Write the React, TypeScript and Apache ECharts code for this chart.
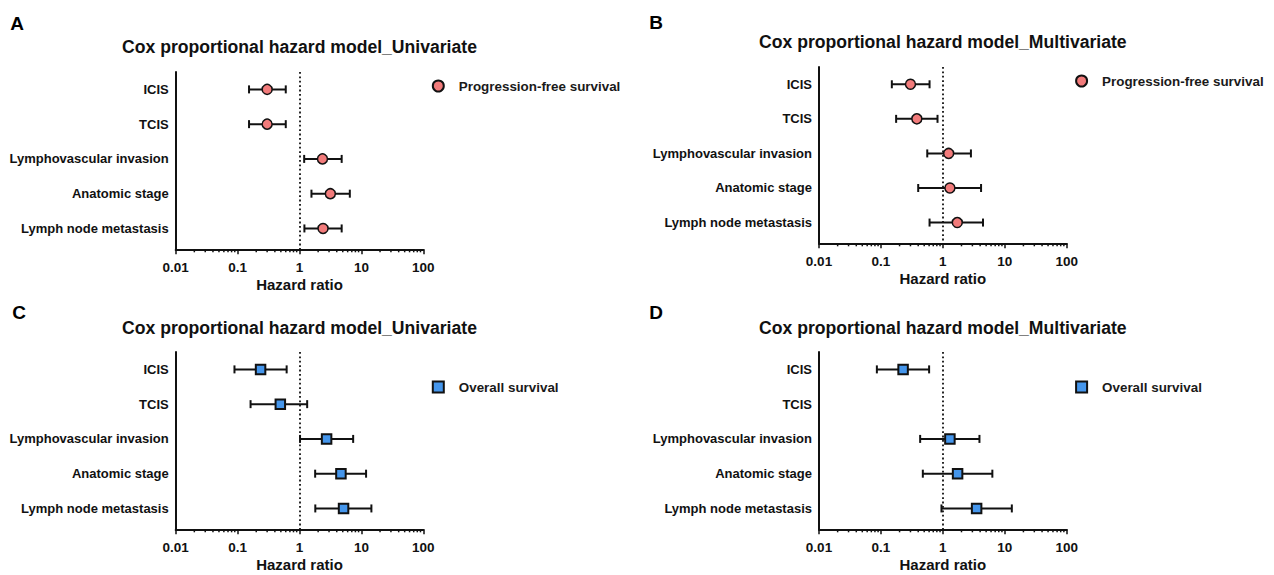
import React, { useEffect, useRef } from 'react';
import * as echarts from 'echarts';

// ---------- data ----------
const CATEGORIES = ['ICIS', 'TCIS', 'Lymphovascular invasion', 'Anatomic stage', 'Lymph node metastasis'];
const TICK_LABELS = ['0.01', '0.1', '1', '10', '100'];
const MINOR_TICKS = [
  0.02, 0.03, 0.04, 0.05, 0.06, 0.07, 0.08, 0.09,
  0.2, 0.3, 0.4, 0.5, 0.6, 0.7, 0.8, 0.9,
  2, 3, 4, 5, 6, 7, 8, 9,
  20, 30, 40, 50, 60, 70, 80, 90,
];

const TITLE_UNI = 'Cox proportional hazard model_Univariate';
const TITLE_MULTI = 'Cox proportional hazard model_Multivariate';
const PFS_NAME = 'Progression-free survival';
const OS_NAME = 'Overall survival';
const AXIS_NAME = 'Hazard ratio';

// Panel A: PFS, univariate
const A_HR = [0.30, 0.30, 2.35, 3.15, 2.4];
const A_LOW = [0.153, 0.153, 1.19, 1.56, 1.2];
const A_HIGH = [0.60, 0.60, 4.8, 6.5, 4.8];

// Panel B: PFS, multivariate
const B_HR = [0.30, 0.38, 1.24, 1.30, 1.71];
const B_LOW = [0.15, 0.176, 0.56, 0.40, 0.61];
const B_HIGH = [0.61, 0.82, 2.84, 4.14, 4.45];

// Panel C: OS, univariate
const C_HR = [0.235, 0.49, 2.74, 4.67, 5.15];
const C_LOW = [0.089, 0.162, 1.02, 1.79, 1.8];
const C_HIGH = [0.62, 1.33, 7.36, 11.9, 14.5];

// Panel D: OS, multivariate (TCIS not in model)
const D_HR = [0.228, null, 1.30, 1.73, 3.51];
const D_LOW = [0.086, null, 0.43, 0.475, 0.95];
const D_HIGH = [0.60, null, 3.90, 6.3, 13.0];

// ---------- styles / layout ----------
const FONT = "'Liberation Sans', Arial, sans-serif";
const INK = '#111111';
const PFS_COLOR = '#F27B7B';
const OS_COLOR = '#4596EC';

type Panel = {
  letter: string;
  title: string;
  legend: string;
  hr: (number | null)[];
  low: (number | null)[];
  high: (number | null)[];
  shape: string;
  color: string;
  size: number;
  border: number;
  grid: { left: number; top: number; width: number; height: number };
  titleY: number;
  letterPos: [number, number];
  legendPos: [number, number];
};

const PANELS: Panel[] = [
  {
    letter: 'A', title: TITLE_UNI, legend: PFS_NAME, hr: A_HR, low: A_LOW, high: A_HIGH,
    shape: 'circle', color: PFS_COLOR, size: 10, border: 1.5,
    grid: { left: 175.7, top: 72, width: 247.6, height: 177.3 },
    titleY: 48, letterPos: [17, 23], legendPos: [437.3, 85],
  },
  {
    letter: 'B', title: TITLE_MULTI, legend: PFS_NAME, hr: B_HR, low: B_LOW, high: B_HIGH,
    shape: 'circle', color: PFS_COLOR, size: 10, border: 1.5,
    grid: { left: 819, top: 67, width: 247.7, height: 176.3 },
    titleY: 43.3, letterPos: [656, 22], legendPos: [1080.6, 80],
  },
  {
    letter: 'C', title: TITLE_UNI, legend: OS_NAME, hr: C_HR, low: C_LOW, high: C_HIGH,
    shape: 'rect', color: OS_COLOR, size: 9.5, border: 2,
    grid: { left: 175.7, top: 352, width: 247.6, height: 177.3 },
    titleY: 329, letterPos: [19, 312], legendPos: [437.3, 386],
  },
  {
    letter: 'D', title: TITLE_MULTI, legend: OS_NAME, hr: D_HR, low: D_LOW, high: D_HIGH,
    shape: 'rect', color: OS_COLOR, size: 9.5, border: 2,
    grid: { left: 819, top: 352, width: 247.7, height: 177.3 },
    titleY: 329, letterPos: [656, 312], legendPos: [1080.6, 386],
  },
];

function tickLabel(v: number): string {
  const k = Math.round(Math.log10(v)) + 2;
  return TICK_LABELS[k] ?? '';
}

function catLabel(v: number): string {
  if (Math.abs(v - Math.round(v)) > 1e-6) return '';
  const i = Math.round(v);
  return CATEGORIES[i] ?? '';
}

function buildOption(): any {
  const grid = PANELS.map((p) => ({ ...p.grid, containLabel: false }));

  const xAxis = PANELS.map((p, i) => ({
    type: 'log',
    logBase: 10,
    gridIndex: i,
    min: 0.01,
    max: 100,
    name: AXIS_NAME,
    nameLocation: 'middle',
    nameGap: 28,
    nameTextStyle: { fontFamily: FONT, fontWeight: 'bold', fontSize: 15, color: INK },
    axisLine: { show: true, onZero: false, lineStyle: { color: INK, width: 2 } },
    axisTick: { show: true, length: 5, lineStyle: { color: INK, width: 1.5 } },
    axisLabel: {
      margin: 11,
      fontFamily: FONT,
      fontWeight: 'bold',
      fontSize: 13.5,
      color: INK,
      formatter: (v: number) => tickLabel(v),
    },
    splitLine: { show: false },
  }));

  const yAxis = PANELS.map((p, i) => ({
    type: 'value',
    gridIndex: i,
    inverse: true,
    min: -0.5,
    max: 4.6,
    interval: 0.5,
    axisLine: { show: true, onZero: false, lineStyle: { color: INK, width: 2 } },
    axisTick: { show: false },
    splitLine: { show: false },
    axisLabel: {
      margin: 7,
      fontFamily: FONT,
      fontWeight: 'bold',
      fontSize: 13,
      color: INK,
      showMaxLabel: false,
      formatter: (v: number) => catLabel(v),
    },
  }));

  const series: any[] = [];
  PANELS.forEach((p, i) => {
    const barData: number[][] = [];
    const ptData: number[][] = [];
    CATEGORIES.forEach((_c, idx) => {
      const lo = p.low[idx];
      const hi = p.high[idx];
      const hr = p.hr[idx];
      if (lo != null && hi != null) barData.push([lo, hi, idx]);
      if (hr != null) ptData.push([hr, idx]);
    });

    // error bars
    series.push({
      type: 'custom',
      xAxisIndex: i,
      yAxisIndex: i,
      silent: true,
      z: 2,
      encode: { x: [0, 1], y: 2 },
      data: barData,
      renderItem: (_params: any, api: any) => {
        const a = api.coord([api.value(0), api.value(2)]);
        const b = api.coord([api.value(1), api.value(2)]);
        const cap = 4;
        const st = { stroke: INK, lineWidth: 2 };
        return {
          type: 'group',
          children: [
            { type: 'line', shape: { x1: a[0], y1: a[1], x2: b[0], y2: b[1] }, style: st },
            { type: 'line', shape: { x1: a[0], y1: a[1] - cap, x2: a[0], y2: a[1] + cap }, style: st },
            { type: 'line', shape: { x1: b[0], y1: b[1] - cap, x2: b[0], y2: b[1] + cap }, style: st },
          ],
        };
      },
    });

    // points + reference line at HR = 1
    series.push({
      type: 'scatter',
      name: p.legend,
      xAxisIndex: i,
      yAxisIndex: i,
      z: 3,
      symbol: p.shape,
      symbolSize: p.size,
      itemStyle: { color: p.color, borderColor: INK, borderWidth: p.border, opacity: 1 },
      data: ptData,
      markLine: {
        silent: true,
        symbol: ['none', 'none'],
        label: { show: false },
        lineStyle: { color: INK, width: 1.8, type: [1.8, 2.6] },
        data: [{ xAxis: 1 }],
        z: 1,
      },
    });

    // minor ticks of the log axis
    series.push({
      type: 'custom',
      xAxisIndex: i,
      yAxisIndex: i,
      silent: true,
      z: 1,
      encode: { x: 0, y: 1 },
      data: MINOR_TICKS.map((v) => [v, 0]),
      renderItem: (params: any, api: any) => {
        const x = api.coord([api.value(0), 0])[0];
        const cs = params.coordSys;
        const yb = cs.y + cs.height;
        return {
          type: 'line',
          shape: { x1: x, y1: yb, x2: x, y2: yb + 3 },
          style: { stroke: INK, lineWidth: 1.5 },
        };
      },
    });
  });

  const title = PANELS.map((p) => ({
    text: p.title,
    left: p.grid.left + p.grid.width / 2,
    top: p.titleY - 10,
    textAlign: 'center',
    padding: 0,
    textStyle: { fontFamily: FONT, fontWeight: 'bold', fontSize: 17.6, color: INK },
  }));

  const legend = PANELS.map((p) => ({
    data: [p.legend],
    left: p.legendPos[0] - 5.5,
    top: p.legendPos[1] - 5.5,
    orient: 'horizontal',
    itemWidth: 11,
    itemHeight: 11,
    padding: 0,
    selectedMode: false,
    textStyle: {
      fontFamily: FONT,
      fontWeight: 'bold',
      fontSize: 13.4,
      color: '#1a1a1a',
      padding: [0, 0, 0, 10],
    },
  }));

  const graphic = PANELS.map((p) => ({
    type: 'text',
    x: p.letterPos[0],
    y: p.letterPos[1],
    silent: true,
    style: {
      text: p.letter,
      fontFamily: FONT,
      fontWeight: 'bold',
      fontSize: 19,
      fill: '#000',
      align: 'center',
      verticalAlign: 'middle',
    },
  }));

  return {
    animation: false,
    backgroundColor: '#ffffff',
    title,
    legend,
    grid,
    xAxis,
    yAxis,
    series,
    graphic,
  };
}

export default function App() {
  const ref = useRef<HTMLDivElement>(null);
  useEffect(() => {
    if (!ref.current) return;
    const chart = echarts.init(ref.current, null, { renderer: 'svg' });
    chart.setOption(buildOption());
    return () => {
      chart.dispose();
    };
  }, []);
  return (
    <div
      ref={ref}
      style={{ position: 'fixed', left: 0, top: 0, width: 1274, height: 575, background: '#fff' }}
    />
  );
}
